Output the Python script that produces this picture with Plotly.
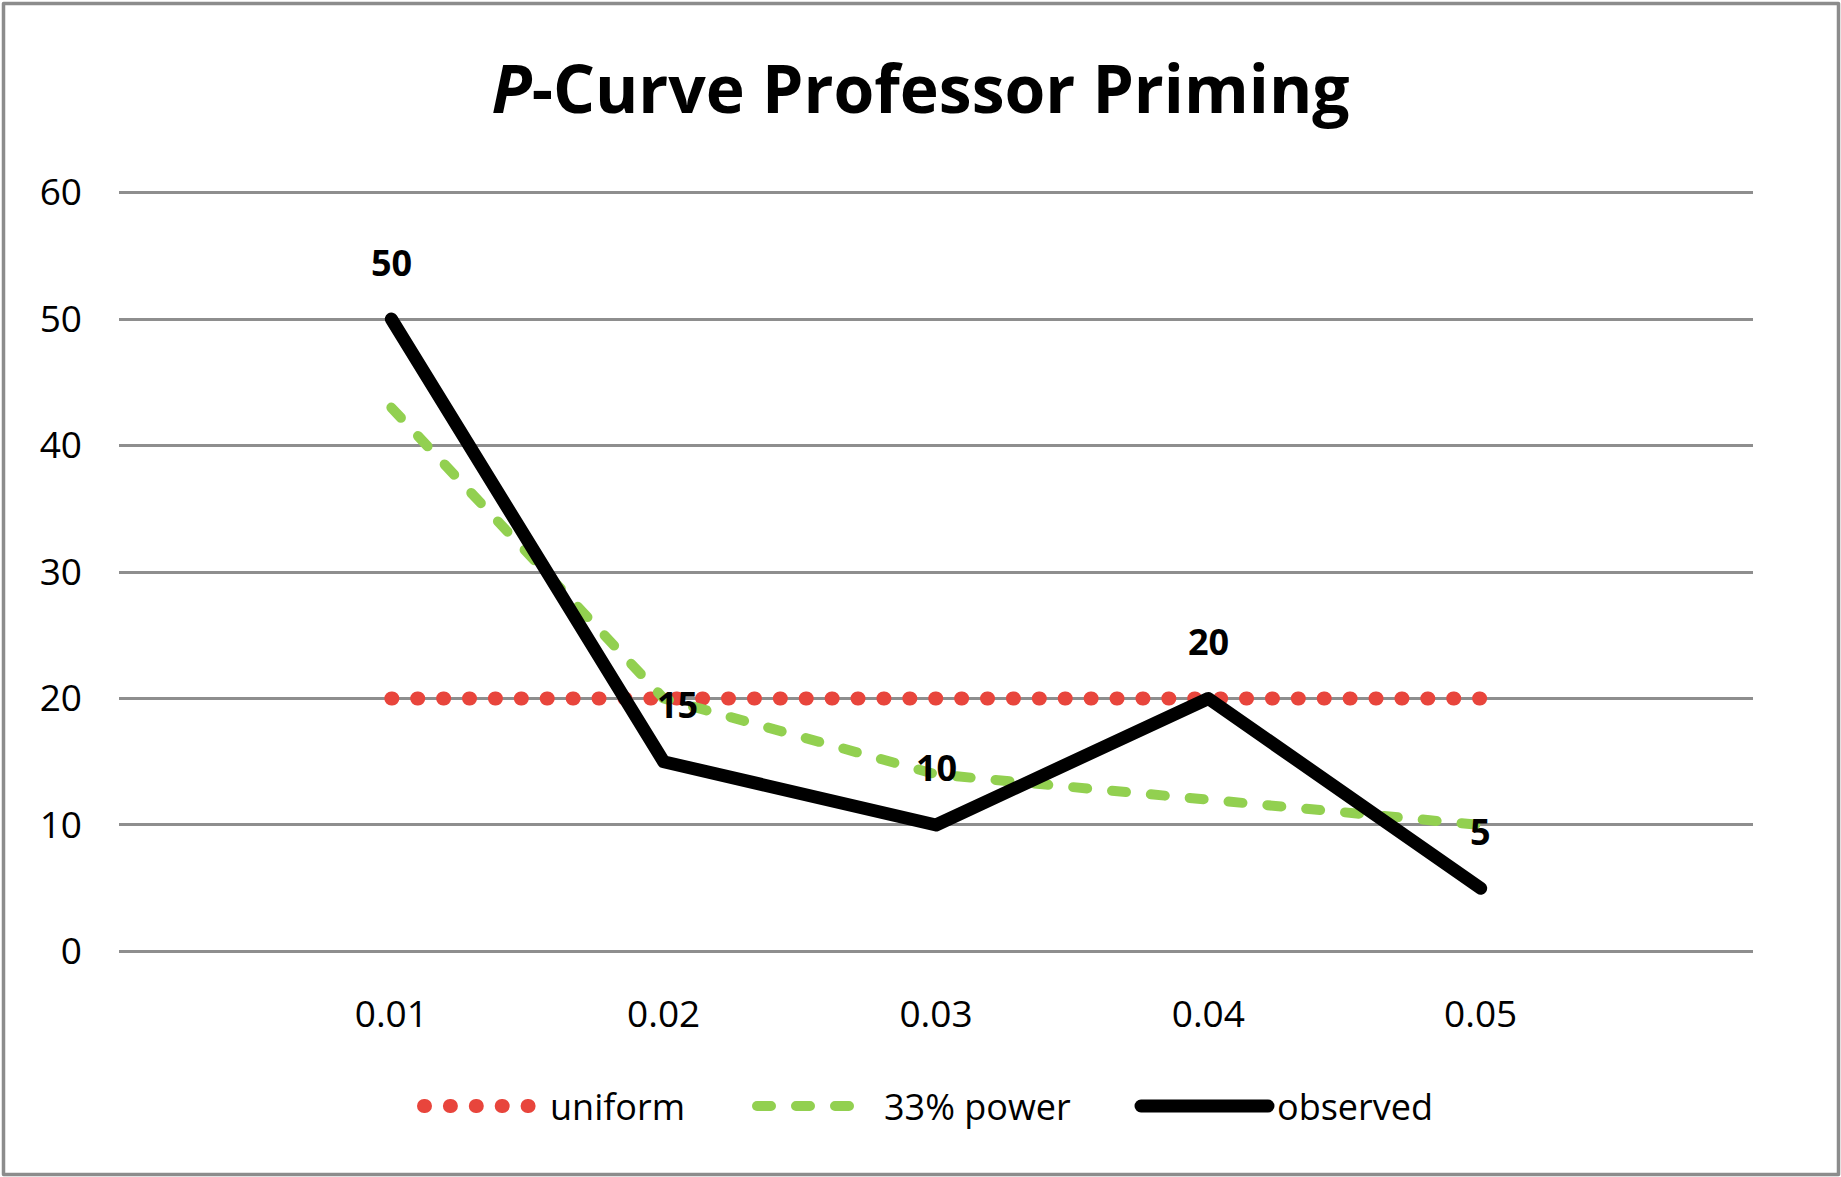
import plotly.graph_objects as go

# ---- data -------------------------------------------------------------
p_values = ["0.01", "0.02", "0.03", "0.04", "0.05"]
uniform = [20, 20, 20, 20, 20]
power_33 = [43, 20, 14, 12, 10]
observed = [50, 15, 10, 20, 5]
y_ticks = [0, 10, 20, 30, 40, 50, 60]

series_names = ["uniform", "33% power", "observed"]

# ---- styling ----------------------------------------------------------
W, H = 1841, 1177
L, R, T, B = 119, 88, 191, 224
FONT = "Open Sans"
RED = "#E8453C"
GREEN = "#92D050"
BLACK = "#000000"
GRID = "#8E8E8E"

# dash patterns are drawn with round caps (see ROUND_CAPS below)
RED_DASH = "1px,24.9px"
GREEN_DASH = "14px,25px"


def px_x(px):
    """Pixel column -> paper x."""
    return (px - L) / (W - L - R)


def px_y(py):
    """Pixel row -> paper y."""
    return (H - B - py) / (H - T - B)


fig = go.Figure()

fig.add_trace(go.Scatter(
    x=p_values, y=uniform, mode="lines", name=series_names[0],
    line=dict(color=RED, width=14, dash=RED_DASH),
    showlegend=False, hoverinfo="skip"))
fig.add_trace(go.Scatter(
    x=p_values, y=power_33, mode="lines", name=series_names[1],
    line=dict(color=GREEN, width=10, dash=GREEN_DASH),
    showlegend=False, hoverinfo="skip"))
fig.add_trace(go.Scatter(
    x=p_values, y=observed, mode="lines", name=series_names[2],
    line=dict(color=BLACK, width=13),
    showlegend=False, hoverinfo="skip"))

# value labels above the observed line
label_xshift = [0, 14, 0, 0, 0]
for i, (yv, dx) in enumerate(zip(observed, label_xshift)):
    fig.add_annotation(
        x=i, y=yv, text=f"<b>{yv}</b>", showarrow=False,
        xanchor="center", yanchor="middle", yshift=57, xshift=dx,
        font=dict(family=FONT, size=36, color="black"))

# legend row drawn below the axis
legend_y = px_y(1106)
legend_items = [
    (series_names[0], RED, 14, RED_DASH, 424, 530, 548),
    (series_names[1], GREEN, 10, GREEN_DASH, 757, 861, 882),
    (series_names[2], BLACK, 13, "solid", 1141, 1268, 1275),
]
for name, color, width, dash, x0, x1, tx in legend_items:
    fig.add_shape(type="line", xref="paper", yref="paper",
                  x0=px_x(x0), x1=px_x(x1), y0=legend_y, y1=legend_y,
                  line=dict(color=color, width=width, dash=dash))
    fig.add_annotation(xref="paper", yref="paper", x=px_x(tx), y=legend_y,
                       text=name, showarrow=False, xanchor="left",
                       yanchor="middle",
                       font=dict(family=FONT, size=36, color="black"))

# chart border
fig.add_shape(type="rect", xref="paper", yref="paper",
              x0=px_x(3.5), x1=px_x(1838.5), y0=px_y(1174.5), y1=px_y(3.5),
              line=dict(color="#8C8C8C", width=3.5), fillcolor="rgba(0,0,0,0)",
              layer="below")

fig.update_layout(
    width=W, height=H,
    margin=dict(l=L, r=R, t=T, b=B),
    paper_bgcolor="white", plot_bgcolor="white",
    title=dict(text="<b><i>P</i>-Curve Professor Priming</b>",
               x=0.5, xref="container", xanchor="center",
               y=1 - 90 / H, yref="container", yanchor="middle",
               font=dict(family=FONT, size=66, color="black")),
    font=dict(family=FONT, color="black"),
    xaxis=dict(type="category", range=[-1, 5], showgrid=False,
               showline=False, zeroline=False, ticks="",
               tickfont=dict(family=FONT, size=37, color="black"),
               ticklabelstandoff=36, fixedrange=True),
    yaxis=dict(range=[-0.12, 60.12], tickvals=y_ticks, showgrid=True,
               gridcolor=GRID, gridwidth=3, zeroline=False, showline=False,
               ticks="", tickfont=dict(family=FONT, size=37, color="black"),
               ticklabelstandoff=36, fixedrange=True),
)

# round line caps and joins for the dotted / dashed strokes
ROUND_CAPS = """
document.querySelectorAll('.scatterlayer .js-line, .shapelayer path').forEach(function (p) {
  p.style.strokeLinecap = 'round';
  p.style.strokeLinejoin = 'round';
});
"""

fig.write_html("out.html", post_script=ROUND_CAPS)
